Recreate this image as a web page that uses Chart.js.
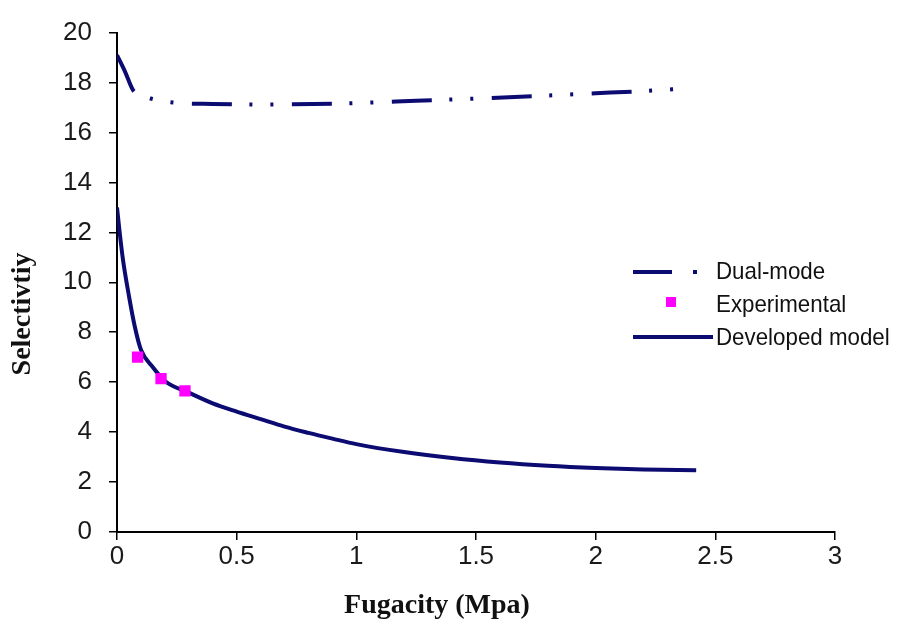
<!DOCTYPE html>
<html>
<head>
<meta charset="utf-8">
<script src="https://cdn.jsdelivr.net/npm/chart.js@4/dist/chart.umd.min.js"></script>
<style>
  html, body { margin: 0; padding: 0; background: #ffffff; }
  #wrap { width: 899px; height: 625px; position: relative; }
</style>
</head>
<body>
<div id="wrap"><canvas id="c" width="899" height="625"></canvas></div>
<script>
// ---- data ----
const xTickLabels = ['0', '0.5', '1', '1.5', '2', '2.5', '3'];
const yTickLabels = ['0', '2', '4', '6', '8', '10', '12', '14', '16', '18', '20'];

const dualX = [0, 0.033, 0.067, 0.1, 0.14, 0.234, 0.4, 0.6, 0.82, 1.0, 1.25, 1.5, 1.75, 2.0, 2.2, 2.35];
const dualY = [19.1, 18.45, 17.7, 17.5, 17.36, 17.2, 17.14, 17.12, 17.14, 17.18, 17.27, 17.36, 17.46, 17.57, 17.66, 17.75];

const expX = [0.086, 0.184, 0.284];
const expY = [7.0, 6.14, 5.65];

const devX = [0, 0.01, 0.025, 0.05, 0.075, 0.1, 0.15, 0.2, 0.3, 0.4, 0.5, 0.6, 0.7, 0.8, 0.9, 1.0, 1.2, 1.4, 1.6, 1.8, 2.0, 2.2, 2.42];
const devY = [13.0, 12.1, 10.9, 9.45, 8.2, 7.3, 6.6, 6.05, 5.58, 5.15, 4.82, 4.52, 4.22, 3.97, 3.74, 3.52, 3.2, 2.96, 2.78, 2.65, 2.56, 2.5, 2.47];

const seriesNames = ['Dual-mode', 'Experimental', 'Developed model'];
const xTitle = 'Fugacity (Mpa)';
const yTitle = 'Selectivtiy';

const NAVY = '#0b0b72';
const MAGENTA = '#ff00ff';
const SANS = '"Liberation Sans", Arial, sans-serif';
const SERIF = '"Liberation Serif", "Times New Roman", serif';

const toPts = (xs, ys) => xs.map((x, i) => ({ x: x, y: ys[i] }));

const overlay = {
  id: 'overlay',
  afterDraw(chart) {
    const ctx = chart.ctx;
    ctx.save();
    // axis titles
    ctx.fillStyle = '#111';
    ctx.font = 'bold 28px ' + SERIF;
    ctx.textAlign = 'center';
    ctx.textBaseline = 'middle';
    ctx.fillText(xTitle, 437, 606);
    ctx.save();
    ctx.translate(23, 314);
    ctx.rotate(-Math.PI / 2);
    ctx.fillText(yTitle, 0, 0);
    ctx.restore();

    // legend samples
    ctx.strokeStyle = NAVY;
    ctx.lineWidth = 4;
    ctx.lineCap = 'butt';
    ctx.beginPath();
    ctx.moveTo(633, 272); ctx.lineTo(672, 272);
    ctx.stroke();
    ctx.fillStyle = NAVY;
    ctx.fillRect(693, 270, 4, 4);
    ctx.fillStyle = MAGENTA;
    ctx.fillRect(666, 297, 10, 10);
    ctx.beginPath();
    ctx.moveTo(633, 337); ctx.lineTo(713, 337);
    ctx.stroke();

    // legend labels (slightly condensed like the reference)
    ctx.fillStyle = '#111';
    ctx.font = '24px ' + SANS;
    ctx.textAlign = 'left';
    ctx.textBaseline = 'middle';
    const rows = [272, 305, 338];
    rows.forEach((y, i) => {
      ctx.save();
      ctx.translate(716, y);
      ctx.scale(0.93, 1);
      ctx.fillText(seriesNames[i], 0, 0);
      ctx.restore();
    });
    ctx.restore();
  }
};

new Chart(document.getElementById('c'), {
  type: 'scatter',
  data: {
    datasets: [
      {
        label: seriesNames[2],
        data: toPts(devX, devY),
        showLine: true,
        borderColor: NAVY,
        borderWidth: 4,
        pointRadius: 0,
        cubicInterpolationMode: 'monotone',
        order: 2
      },
      {
        label: seriesNames[0],
        data: toPts(dualX, dualY),
        showLine: true,
        borderColor: NAVY,
        borderWidth: 4,
        borderDash: [40, 17.5, 3, 18, 3, 18.5],
        borderCapStyle: 'butt',
        pointRadius: 0,
        cubicInterpolationMode: 'monotone',
        order: 3
      },
      {
        label: seriesNames[1],
        data: toPts(expX, expY),
        showLine: false,
        pointStyle: 'rect',
        pointRadius: 8,
        pointBackgroundColor: MAGENTA,
        pointBorderWidth: 0,
        order: 1
      }
    ]
  },
  options: {
    responsive: false,
    animation: false,
    devicePixelRatio: 1,
    layout: { padding: { top: 26, right: 64, left: 0, bottom: 0 } },
    plugins: { legend: { display: false }, tooltip: { enabled: false } },
    scales: {
      x: {
        type: 'linear', min: 0, max: 3,
        afterFit(s) { s.height = 93; },
        afterBuildTicks(s) { s.ticks = xTickLabels.map(v => ({ value: parseFloat(v) })); },
        ticks: { callback: (v, i) => xTickLabels[i], color: '#1a1a1a', font: { family: SANS, size: 26 }, padding: 1, maxRotation: 0, autoSkip: false },
        grid: { drawOnChartArea: false, color: '#000', lineWidth: 1.5, tickLength: 8 },
        border: { color: '#000', width: 2 }
      },
      y: {
        type: 'linear', min: 0, max: 20,
        afterFit(s) { s.width = 117; },
        afterBuildTicks(s) { s.ticks = yTickLabels.map(v => ({ value: parseFloat(v) })); },
        ticks: { callback: (v, i) => yTickLabels[i], color: '#1a1a1a', font: { family: SANS, size: 26 }, padding: 17, autoSkip: false },
        grid: { drawOnChartArea: false, color: '#000', lineWidth: 1.5, tickLength: 8 },
        border: { color: '#000', width: 2 }
      }
    }
  },
  plugins: [overlay]
});
</script>
</body>
</html>
